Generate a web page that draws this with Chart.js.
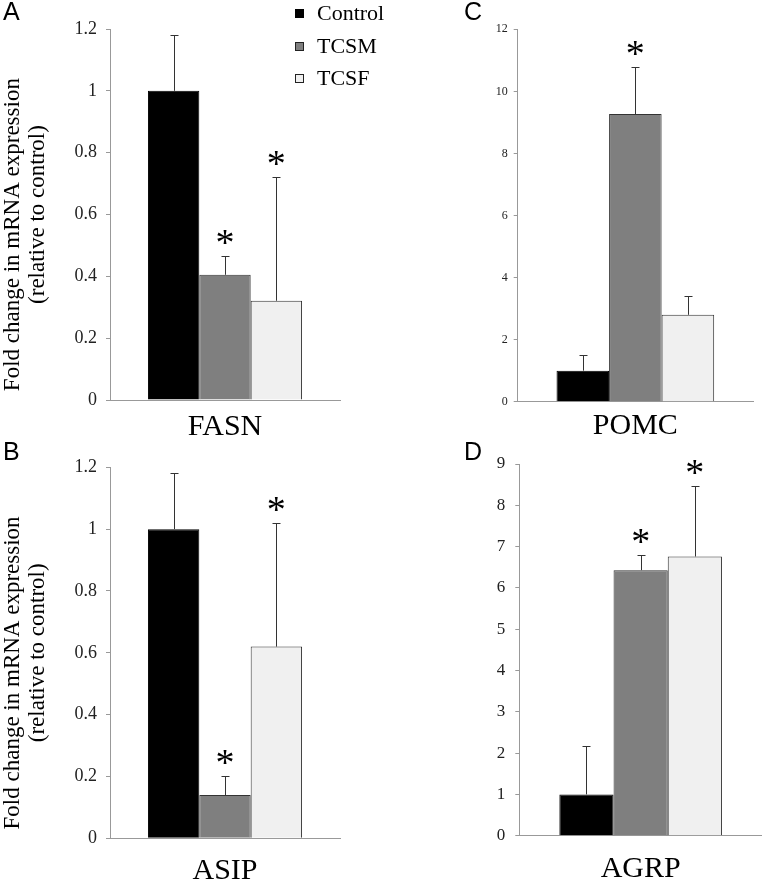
<!DOCTYPE html>
<html><head><meta charset="utf-8">
<script src="https://cdn.jsdelivr.net/npm/chart.js@4.4.1/dist/chart.umd.min.js"></script>
<style>
html,body{margin:0;padding:0;background:#fff;}
#wrap{position:relative;width:762px;height:881px;overflow:hidden;background:#fff;}
canvas{position:absolute;}
.lbl{position:absolute;font-family:"Liberation Sans",Arial,sans-serif;font-size:25px;line-height:25px;color:#000;}
.leg{position:absolute;left:295px;display:flex;align-items:center;height:22px;font-family:"Liberation Serif",serif;font-size:22px;line-height:22px;color:#000;white-space:nowrap;}
.sw{width:7px;height:7px;margin-right:13px;border:1px solid #222;}
</style></head>
<body><div id="wrap">
<canvas id="cA" width="380" height="440" style="left:0;top:0"></canvas>
<canvas id="cC" width="382" height="440" style="left:380px;top:0"></canvas>
<canvas id="cB" width="380" height="441" style="left:0;top:440px"></canvas>
<canvas id="cD" width="382" height="441" style="left:380px;top:440px"></canvas>
<div class="lbl" style="left:3px;top:-1px">A</div>
<div class="lbl" style="left:464px;top:-1px">C</div>
<div class="lbl" style="left:3px;top:439px">B</div>
<div class="lbl" style="left:464px;top:439px">D</div>
<div id="legend"></div>
</div>
<script>
// ---- data ----
const seriesNames = ['Control', 'TCSM', 'TCSF'];
const seriesColors = ['#000000', '#7f7f7f', '#f0f0f0'];

const fasnCategory = ['FASN'];
const fasnMeans = [1.00, 0.405, 0.321];
const fasnErrors = [0.18, 0.062, 0.401];
const fasnSignificant = [false, true, true];
const fasnTicks = ['0', '0.2', '0.4', '0.6', '0.8', '1', '1.2'];

const asipCategory = ['ASIP'];
const asipMeans = [1.00, 0.14, 0.62];
const asipErrors = [0.18, 0.063, 0.40];
const asipSignificant = [false, true, true];
const asipTicks = ['0', '0.2', '0.4', '0.6', '0.8', '1', '1.2'];

const pomcCategory = ['POMC'];
const pomcMeans = [1.00, 9.27, 2.80];
const pomcErrors = [0.50, 1.50, 0.61];
const pomcSignificant = [false, true, false];
const pomcTicks = ['0', '2', '4', '6', '8', '10', '12'];

const agrpCategory = ['AGRP'];
const agrpMeans = [1.00, 6.43, 6.76];
const agrpErrors = [1.18, 0.36, 1.71];
const agrpSignificant = [false, true, true];
const agrpTicks = ['0', '1', '2', '3', '4', '5', '6', '7', '8', '9'];

const yTitle = ['Fold change in mRNA expression\u00a0\u00a0\u00a0\u00a0\u00a0\u00a0\u00a0', '(relative to control)'];

// ---- legend (HTML) ----
const legTops = [2, 35, 67];
const legend = document.getElementById('legend');
seriesNames.forEach((n, i) => {
  const row = document.createElement('div');
  row.className = 'leg';
  row.style.top = legTops[i] + 'px';
  const sw = document.createElement('span');
  sw.className = 'sw';
  sw.style.background = seriesColors[i];
  if (i === 0) sw.style.borderColor = '#000';
  row.appendChild(sw);
  row.appendChild(document.createTextNode(n));
  legend.appendChild(row);
});

// ---- error bars + asterisks ----
const errorBarPlugin = {
  id: 'errbars',
  afterDatasetsDraw(chart) {
    const ctx = chart.ctx;
    const y = chart.scales.y;
    chart.data.datasets.forEach((ds, i) => {
      const bar = chart.getDatasetMeta(i).data[0];
      const top = y.getPixelForValue(ds.data[0] + ds.errorPlus[0]);
      const x = Math.round(bar.x) + 0.5;
      const ty = Math.round(top) + 0.5;
      ctx.save();
      ctx.strokeStyle = '#333';
      ctx.lineWidth = 1;
      ctx.beginPath();
      ctx.moveTo(x, bar.y);
      ctx.lineTo(x, ty);
      ctx.moveTo(x - 4, ty);
      ctx.lineTo(x + 4, ty);
      ctx.stroke();
      if (ds.significant[0]) {
        ctx.fillStyle = '#000';
        ctx.font = '38px "Liberation Serif"';
        ctx.textAlign = 'center';
        ctx.textBaseline = 'alphabetic';
        ctx.fillText('*', bar.x, top - 1);
      }
      ctx.restore();
    });
  }
};

function makePanel(id, category, means, errors, sig, ticks, g) {
  const tickMax = parseFloat(ticks[ticks.length - 1]);
  const tickStep = parseFloat(ticks[1]);
  return new Chart(document.getElementById(id), {
    type: 'bar',
    data: {
      labels: category,
      datasets: seriesNames.map((n, i) => ({
        label: n,
        data: [means[i]],
        errorPlus: [errors[i]],
        significant: [sig[i]],
        backgroundColor: seriesColors[i],
        borderColor: i === 0 ? '#000' : '#333',
        borderWidth: 1,
        borderSkipped: 'bottom',
        categoryPercentage: 0.67,
        barPercentage: 1.0
      }))
    },
    options: {
      responsive: false,
      animation: false,
      events: [],
      layout: { padding: { left: 0, top: g.top, right: g.right, bottom: 0 } },
      plugins: { legend: { display: false }, tooltip: { enabled: false } },
      scales: {
        x: {
          grid: { display: false },
          border: { display: true, color: '#999' },
          ticks: { font: { family: 'Liberation Serif', size: 30 }, color: '#000', padding: g.xpad },
          afterFit(s) { s.height = g.xh; }
        },
        y: {
          min: 0, max: tickMax,
          ticks: {
            stepSize: tickStep,
            callback: (v, i) => ticks[i],
            font: { family: 'Liberation Serif', size: g.tickSize },
            color: '#222',
            padding: g.ypad
          },
          grid: { drawOnChartArea: false, drawTicks: true, tickLength: 4, color: '#999' },
          border: { display: true, color: '#999' },
          title: g.title ? {
            display: true, text: yTitle, color: '#000',
            font: { family: 'Liberation Serif', size: 23, lineHeight: 1.1 },
            padding: { top: 0, bottom: 0 }
          } : { display: false },
          afterFit(s) { s.width = g.yw; }
        }
      }
    },
    plugins: [errorBarPlugin]
  });
}

makePanel('cA', fasnCategory, fasnMeans, fasnErrors, fasnSignificant, fasnTicks,
  { top: 29, right: 40, xh: 40, yw: 110, xpad: 1, tickSize: 18, ypad: 9, title: true });
makePanel('cB', asipCategory, asipMeans, asipErrors, asipSignificant, asipTicks,
  { top: 27.3, right: 40, xh: 42.7, yw: 110, xpad: 7, tickSize: 18, ypad: 9, title: true });
makePanel('cC', pomcCategory, pomcMeans, pomcErrors, pomcSignificant, pomcTicks,
  { top: 29.3, right: 9, xh: 38.3, yw: 137.7, xpad: -2, tickSize: 12, ypad: 6, title: false });
makePanel('cD', agrpCategory, agrpMeans, agrpErrors, agrpSignificant, agrpTicks,
  { top: 24, right: 0, xh: 45.3, yw: 139.3, xpad: 7, tickSize: 17, ypad: 10, title: false });
</script>
</body></html>
